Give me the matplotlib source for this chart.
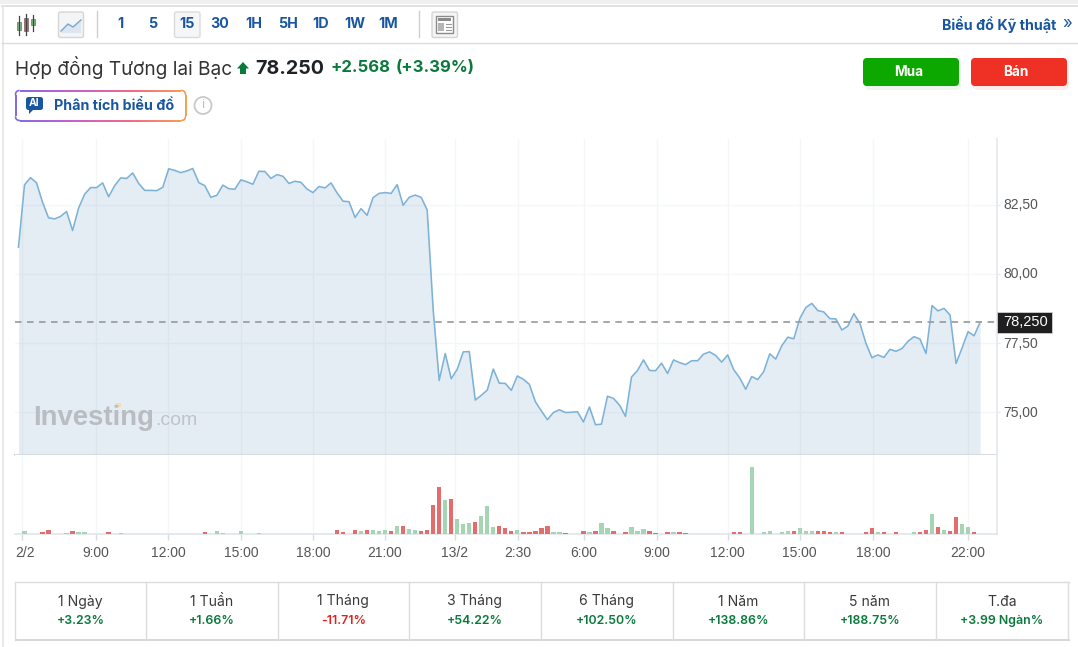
import numpy as np
import matplotlib
matplotlib.use("Agg")
import matplotlib.pyplot as plt
from matplotlib.patches import FancyBboxPatch, Rectangle, Circle, Polygon
from matplotlib.collections import LineCollection
from matplotlib.colors import LinearSegmentedColormap
from matplotlib.transforms import ScaledTranslation

plt.rcParams['font.family'] = ['Inter', 'Noto Sans', 'DejaVu Sans']

prices = [
    80.96,83.21,83.47,83.28,82.58,82.02,81.98,82.07,82.25,81.56,
    82.37,82.87,83.11,83.11,83.28,82.78,83.18,83.46,83.44,83.64,
    83.26,83.01,83.01,83.00,83.12,83.79,83.73,83.65,83.71,83.80,
    83.29,83.18,82.76,82.83,83.20,83.07,83.05,83.39,83.32,83.23,
    83.70,83.69,83.44,83.58,83.52,83.26,83.34,83.30,83.06,82.93,
    83.15,83.10,83.28,82.92,
    82.62,82.60,82.03,82.35,82.11,82.75,82.90,82.93,82.90,83.22,
    82.47,82.76,82.84,82.76,82.30,78.69,76.15,77.12,76.21,76.55,
    77.18,77.19,75.44,75.61,75.80,76.56,76.05,76.04,75.79,76.31,
    76.19,76.01,75.38,75.05,74.73,74.99,75.09,74.99,75.00,75.02,
    74.65,75.19,74.55,74.57,75.58,75.50,75.26,74.85,76.27,76.51,
    76.89,76.51,76.50,76.77,76.40,76.89,76.79,
    76.72,76.86,76.86,77.10,77.18,77.05,76.81,77.07,76.54,76.24,
    75.83,76.29,76.18,76.47,77.11,76.92,77.40,77.71,77.65,78.38,
    78.78,78.93,78.67,78.62,78.38,78.37,77.97,78.11,78.56,78.21,
    77.49,76.97,77.07,76.98,77.27,77.20,77.30,77.56,77.73,77.64,
    77.12,78.85,78.66,78.75,78.51,76.76,77.32,77.91,77.76,78.25,
]
volumes = [
    1,10,1,1,5,12,1,1,4,8, 5,5,1,1,1,5,1,4,1,1,
    1,1,1,0,0,1,1,1,0,1, 1,5,1,9,4,0,0,9,1,1,
    4,1,1,0,1,1,0,1,1,1, 1,1,1,12,5,1,12,9,12,12,
    9,12,9,24,24,14,12,9,12,88, 142,102,106,46,30,33,37,55,85,20,
    24,17,10,13,6,6,10,17,25,6, 5,2,1,1,10,5,10,32,17,10,
    1,6,20,10,14,10,2,1,6,5, 6,2,1,1,0,1,1,1,1,6,
    6,0,200,1,5,10,1,5,10,10, 17,10,10,10,10,6,5,5,1,1,
    1,5,17,5,5,1,5,1,1,5, 6,13,60,20,13,10,50,31,20,5,1,
]
up_bars = [0,1,2,7,8,10,11,14,16,17,18,19,22,25,29,33,34,37,40,50,51,52,57,59,60,61,63,65,66,
           71,73,74,75,77,78,79,83,89,90,92,93,95,97,98,102,103,104,107,109,112,113,115,122,
           124,125,127,128,130,131,132,136,138,139,143,145,147,148,149,152,154,157,158,160]

x_labels = ["2/2","9:00","12:00","15:00","18:00","21:00","13/2","2:30","6:00","9:00","12:00","15:00","18:00","22:00"]
x_ticks = [0.5,12.9,24.9,37,49,61,72.6,83.1,94.1,106.2,118,130,142.2,158]
y_ticks = [75.0,77.5,80.0,82.5]
y_labels = ["75,00","77,50","80,00","82,50"]
last_price = 78.25
intervals = ["1","5","15","30","1H","5H","1D","1W","1M"]
periods = ["1 Ngày","1 Tuần","1 Tháng","3 Tháng","6 Tháng","1 Năm","5 năm","T.đa"]
changes = ["+3.23%","+1.66%","-11.71%","+54.22%","+102.50%","+138.86%","+188.75%","+3.99 Ngàn%"]

W, H = 1078, 647
fig = plt.figure(figsize=(W/100, H/100), dpi=100, facecolor='white')

def axes_px(l, t, r, b, **kw):
    return fig.add_axes([l/W, 1-b/H, (r-l)/W, (b-t)/H], **kw)

X0, X1 = 15, 997
xlim = ((X0-18.5)/6.01, (X1-18.5)/6.01)
GRID = '#f4f6f7'
LINE = '#7db2d8'
BLUE = '#1a56a0'
GREEN = '#0a7a3c'
AXFONT = 'Liberation Sans'
idx = np.arange(len(prices))
vol_up = [k in up_bars for k in range(len(volumes))]

# price pane
ax = axes_px(X0, 139, X1, 455)
ax.set_xlim(*xlim)
ax.set_ylim(77.5+(343-455)/27.7, 77.5+(343-139)/27.7)
ax.fill_between(idx, prices, ax.get_ylim()[0], color='#6f9fc8', alpha=0.185, lw=0, zorder=2)
ax.plot(idx, prices, color=LINE, lw=1.15, zorder=3, solid_joinstyle='round')
ax.axhline(last_price, color='#9d9fa2', lw=1.3, dashes=(3.6, 3.05), zorder=4)
ax.set_xticks(x_ticks)
ax.set_yticks(y_ticks)
ax.set_yticklabels(y_labels, family=AXFONT)
ax.yaxis.tick_right()
ax.tick_params(axis='x', length=0, labelbottom=False)
ax.tick_params(axis='y', length=2.2, width=1, color='#e6ebef', pad=2.2, labelsize=10, labelcolor='#555555')
ax.grid(True, color=GRID, lw=1, zorder=1)
ax.set_axisbelow(True)
for t in ax.get_yticklabels():
    t.set_transform(t.get_transform() + ScaledTranslation(0, 1/100, fig.dpi_scale_trans))
for n, s in ax.spines.items():
    s.set_visible(False)
ax.spines['right'].set_visible(True); ax.spines['right'].set_color('#e6ebef'); ax.spines['right'].set_linewidth(1.3)
ax.spines['bottom'].set_visible(True); ax.spines['bottom'].set_color('#d5dde3'); ax.spines['bottom'].set_linewidth(1.5)

# volume pane
av = axes_px(X0, 455, X1, 534)
av.set_xlim(*xlim)
av.set_ylim(0, 237)
vcol = ['#a6d5b4' if u else '#e46c6c' for u in vol_up]
av.bar(idx, np.maximum(volumes, 1), width=0.72, color=vcol, lw=0, zorder=3)
av.set_xticks(x_ticks)
av.set_xticklabels(x_labels, family=AXFONT)
av.set_yticks([])
av.tick_params(axis='x', length=4, color='#d5dce2', width=1, pad=4.5, labelsize=10, labelcolor='#555555')
av.grid(True, axis='x', color=GRID, lw=1, zorder=1)
first = av.get_xticklabels()[0]
first.set_transform(first.get_transform() + ScaledTranslation(4/100, 0, fig.dpi_scale_trans))
for n, s in av.spines.items():
    s.set_visible(False)
av.spines['right'].set_visible(True); av.spines['right'].set_color('#e6ebef'); av.spines['right'].set_linewidth(1.3)
av.spines['bottom'].set_visible(True); av.spines['bottom'].set_color('#dfe5ea'); av.spines['bottom'].set_linewidth(1.2)

# chrome overlay in pixel coordinates
c = fig.add_axes([0, 0, 1, 1], zorder=10)
c.set_xlim(0, W); c.set_ylim(H, 0); c.axis('off'); c.patch.set_alpha(0)

def rect(x0, y0, x1, y1, **kw):
    c.add_patch(Rectangle((x0, y0), x1-x0, y1-y0, **kw))
def rbox(x0, y0, x1, y1, r=3, **kw):
    p = FancyBboxPatch((x0, y0), x1-x0, y1-y0, boxstyle=f"round,pad=0,rounding_size={r}", **kw)
    c.add_patch(p); return p
def txt(x, y, s, **kw):
    kw.setdefault('va', 'center'); kw.setdefault('ha', 'left')
    return c.text(x, y, s, **kw)

# frame
rect(0, 0, W, 4, fc='#f0f0f0', ec='none')
c.plot([2, W], [5.5, 5.5], color='#dcdcdc', lw=1.2)
c.plot([2.5, 2.5], [5.5, H], color='#e4e4e4', lw=1.2)
c.plot([2, W], [42.5, 42.5], color='#dcdcdc', lw=1)
for xs in (96.5, 418.5):
    c.plot([xs, xs], [11, 37], color='#cfcfcf', lw=1)

# candle icon
for x, y0, y1, by0, by1, col in [(19, 16, 35, 22, 30, '#7ab87f'), (26, 14, 35, 18, 31, '#ee4a55'), (33, 15, 31, 19, 25, '#7ab87f')]:
    c.plot([x, x], [y0, y1], color='#444444', lw=0.9)
    rect(x-2, by0, x+2, by1, fc=col, ec='#555555', lw=0.4)
# line icon
rbox(58.5, 12, 83.5, 37.5, r=2, fc='#f3f4f6', ec='#d4d6d9', lw=1)
c.add_patch(Polygon([(61, 31), (68, 24), (73, 27), (81, 20), (81, 33), (61, 33)], fc='#dbe6f0', ec='none'))
c.plot([61, 68, 73, 81], [31, 24, 27, 20], color='#7aa7cc', lw=1)

ix = [120, 153, 187, 220, 254, 288, 321, 355, 388]
rbox(174.5, 12, 200, 37.5, r=2, fc='#f5f6f7', ec='#d9dbde', lw=1)
for x, s in zip(ix, intervals):
    txt(x, 24.5, s, ha='center', color=BLUE, fontsize=10.3, fontweight='bold')
# news icon
rbox(432, 12, 457.5, 37.5, r=2, fc='#f5f5f5', ec='#d4d4d4', lw=1)
rect(436, 16, 453, 33, fc='white', ec='#8a8a8a', lw=1)
rect(438, 18, 451, 21, fc='#8a8a8a', ec='none')
rect(438, 23, 444, 31, fc='#b5b5b5', ec='none')
for yy in (24, 27, 30):
    c.plot([446, 451], [yy, yy], color='#9a9a9a', lw=0.8)
txt(942, 24.5, "Biểu đồ Kỹ thuật", color=BLUE, fontsize=10.3, fontweight='bold')
txt(1062, 23.5, "»", color=BLUE, fontsize=12)

# header
txt(15, 68, "Hợp đồng Tương lai Bạc", color='#333333', fontsize=13.7)
c.add_patch(Polygon([(243, 62), (249, 68.5), (246, 68.5), (246, 74), (240, 74), (240, 68.5), (237, 68.5)], fc=GREEN, ec='none'))
txt(255, 68.5, "78.250", color='#1f2328', fontsize=14.2, fontweight='bold')
txt(330, 67.5, "+2.568", color=GREEN, fontsize=12, fontweight='bold')
txt(396, 67.5, "(+3.39%)", color=GREEN, fontsize=12, fontweight='bold')

# buttons
rbox(865, 61, 961, 90, r=5, fc='#eef7ee', ec='none')
rbox(973, 61, 1069, 90, r=5, fc='#fdeeec', ec='none')
rbox(863, 58, 959, 86, r=4, fc='#0ca800', ec='none')
rbox(971, 58, 1067, 86, r=4, fc='#ee3124', ec='none')
txt(909, 72.5, "Mua", ha='center', color='white', fontsize=9.8, fontweight='bold')
txt(1016, 72.5, "Bán", ha='center', color='white', fontsize=9.8, fontweight='bold')

# AI button with gradient border
box = FancyBboxPatch((15.5, 90.5), 170, 30, boxstyle="round,pad=0,rounding_size=4")
poly = box.get_path().to_polygons(closed_only=False)[0]
d = np.r_[0, np.cumsum(np.hypot(*np.diff(poly, axis=0).T))]
t = np.linspace(0, d[-1], 500)
pts = np.c_[np.interp(t, d, poly[:, 0]), np.interp(t, d, poly[:, 1])]
segs = np.stack([pts[:-1], pts[1:]], axis=1)
cmap = LinearSegmentedColormap.from_list('ai', ['#5b3fe0', '#b42fc0', '#ef3a6a', '#f5821f'])
lc = LineCollection(segs, cmap=cmap, lw=1.1)
lc.set_array((segs[:, 0, 0]-15)/171); c.add_collection(lc)
rbox(26, 97, 43, 110, r=2.5, fc=BLUE, ec='none')
c.add_patch(Polygon([(29, 109), (34, 109), (29, 114)], fc=BLUE, ec='none'))
txt(34.5, 103.5, "AI", ha='center', color='white', fontsize=7.5, fontweight='bold')
txt(54, 105.5, "Phân tích biểu đồ", color=BLUE, fontsize=10.3, fontweight='bold')
c.add_patch(Circle((203, 105.5), 8.5, fc='white', ec='#c9c9c9', lw=1.3))
txt(203, 105.5, "i", ha='center', color='#bdbdbd', fontsize=9)

# watermark
txt(33, 425, "Investing", va='baseline', color='#b9bdc1', fontsize=19.8, fontweight='bold', family=AXFONT)
rect(115, 402.5, 120.5, 407, fc='#f5dcb8', ec='none')
txt(155.5, 425, ".com", va='baseline', color='#bfc4c8', fontsize=14, family=AXFONT)

# last price tag
rect(997, 312, 1052, 333, fc='#1f1f1f', ec='#d0d0d0', lw=0.6)
txt(1025.5, 322.5, "78,250", ha='center', color='white', fontsize=10.5, family=AXFONT)

# period table
edges = [15.5, 146.5, 278, 409.5, 541, 673, 804.5, 936, 1068.5]
c.plot([edges[0], edges[-1]], [581.5, 581.5], color='#dcdcdc', lw=1)
c.plot([edges[0], edges[-1]], [639.5, 639.5], color='#d4d4d4', lw=1.3)
for e in edges:
    c.plot([e-0.5, e-0.5], [581.5, 639.5], color='#dcdcdc', lw=1)
for i, (p, v) in enumerate(zip(periods, changes)):
    mid = (edges[i]+edges[i+1])/2
    txt(mid-0.5, 601.5, p, ha='center', color='#3a3a3a', fontsize=10.1)
    txt(mid-0.5, 621, v, ha='center', color='#e0201b' if v.startswith('-') else GREEN, fontsize=8.9, fontweight='semibold')

fig.savefig('out.png', dpi=100)
